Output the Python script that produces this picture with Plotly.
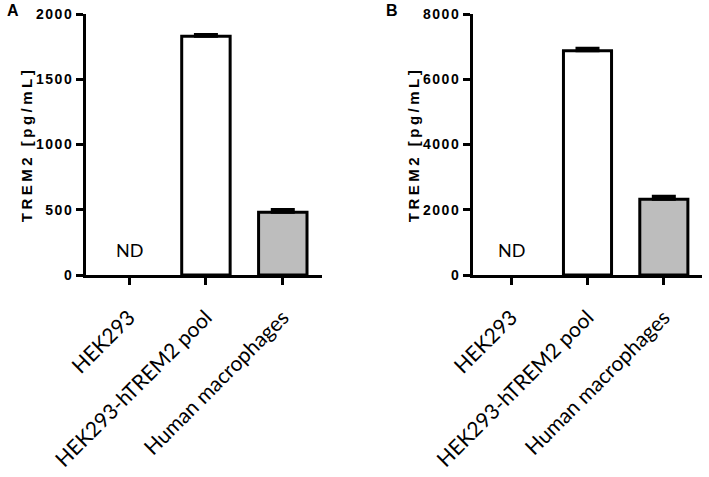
import plotly.graph_objects as go

categories = ["HEK293", "HEK293-hTREM2 pool", "Human macrophages"]
values_a = [None, 1830, 480]
errors_a = [0, 12, 22]
values_b = [None, 6870, 2320]
errors_b = [0, 80, 90]
bar_colors = ["white", "white", "#BDBDBD"]
yticks_a = [0, 500, 1000, 1500, 2000]
yticks_b = [0, 2000, 4000, 6000, 8000]
nd_label = "ND"
y_title = "TREM2 [pg/mL]"

W, H = 709, 477
ML, MR, MT, MB = 86, 7, 14, 202
PW = W - ML - MR

fig = go.Figure()

for vals, errs, xa, ya in [(values_a, errors_a, "x", "y"), (values_b, errors_b, "x2", "y2")]:
    fig.add_trace(go.Bar(
        x=categories, y=vals, xaxis=xa, yaxis=ya, width=0.63,
        marker=dict(color=bar_colors, line=dict(color="black", width=3)),
        error_y=dict(type="data", array=errs, arrayminus=[0] * len(errs), symmetric=False,
                     color="black", thickness=3, width=12),
        showlegend=False, hoverinfo="skip",
    ))

tickfont_y = dict(family="Liberation Sans", size=14, color="black", weight="bold")
tickfont_x = dict(family="Lato", size=21, color="black")
title_font = dict(family="Liberation Sans", size=15, color="black", weight="bold")

common_x = dict(type="category", showline=True, linecolor="black", linewidth=3,
                ticks="outside", ticklen=7, tickwidth=2.5, tickcolor="black",
                tickangle=-45, tickfont=tickfont_x, ticklabelstandoff=12,
                showgrid=False, zeroline=False, fixedrange=True)
common_y = dict(showline=True, linecolor="black", linewidth=3,
                ticks="outside", ticklen=7, tickwidth=2.5, tickcolor="black",
                tickfont=tickfont_y, showgrid=False, zeroline=False, fixedrange=True,
                title=dict(text=y_title, font=title_font, standoff=6))

fig.update_layout(
    width=W, height=H,
    margin=dict(l=ML, r=MR, t=MT, b=MB, autoexpand=False),
    paper_bgcolor="white", plot_bgcolor="white",
    bargap=0.3,
    xaxis=dict(domain=[0, (322 - ML) / PW], range=[-0.56, 2.51], anchor="y", **common_x),
    yaxis=dict(range=[0, 2000], tickvals=yticks_a, anchor="x", **common_y),
    xaxis2=dict(domain=[(473 - ML) / PW, 1], range=[-0.5, 2.5], anchor="y2", **common_x),
    yaxis2=dict(range=[0, 8000], tickvals=yticks_b, anchor="x2", **common_y),
)

for xa, ya in [("x", "y"), ("x2", "y2")]:
    fig.add_annotation(x=categories[0], y=0, xref=xa, yref=ya, text=nd_label,
                       showarrow=False, yanchor="bottom", yshift=12,
                       font=dict(family="Lato", size=18, color="black"))

for letter, px in [("A", 13), ("B", 392)]:
    fig.add_annotation(x=(px - ML) / PW, y=1 + (MT - 11) / (H - MT - MB), xref="paper", yref="paper",
                       text=letter, showarrow=False, xanchor="center", yanchor="middle",
                       font=dict(family="Liberation Sans", size=16, color="black", weight="bold"))

post = """
document.body.style.margin = '0';
var s = document.createElement('style');
s.innerHTML = '.ytick text, .y2tick text {letter-spacing: 1.5px;} .ytitle, .y2title {letter-spacing: 3.5px;}';
document.head.appendChild(s);
"""
fig.write_html("out.html", post_script=post, config={"displayModeBar": False})
